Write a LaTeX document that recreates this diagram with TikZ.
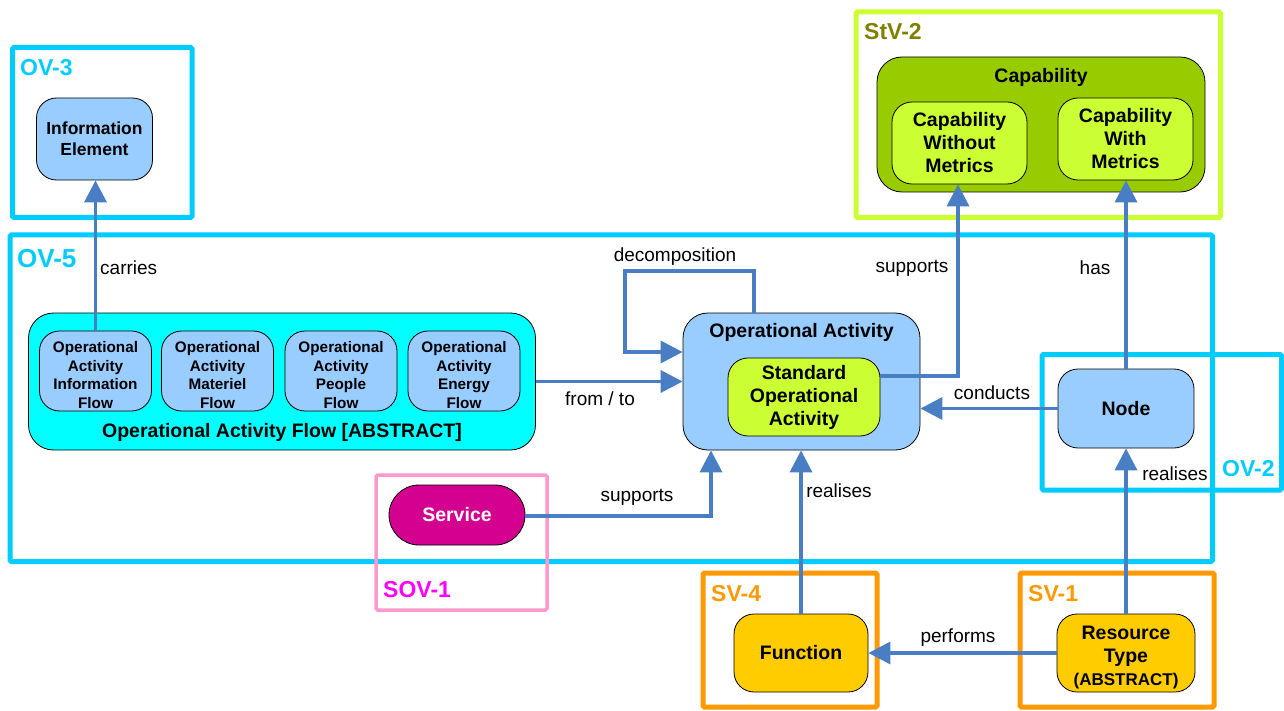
\documentclass[tikz,border=0pt]{standalone}
\usepackage{fontspec}
\setmainfont{Liberation Sans}
\usetikzlibrary{arrows.meta}
\definecolor{cyanframe}{HTML}{00CCFF}
\definecolor{limeframe}{HTML}{CCFF33}
\definecolor{olive}{HTML}{808000}
\definecolor{capgreen}{HTML}{99CC00}
\definecolor{limefill}{HTML}{CCFF33}
\definecolor{bluefill}{HTML}{99CCFF}
\definecolor{cyanfill}{HTML}{00FFFF}
\definecolor{pinkframe}{HTML}{FF99CC}
\definecolor{magentalbl}{HTML}{FF00FF}
\definecolor{servicefill}{HTML}{D4008F}
\definecolor{orangeframe}{HTML}{FF9900}
\definecolor{yellowfill}{HTML}{FFCC00}
\definecolor{arrowblue}{HTML}{4A7EC4}
\begin{document}
\begin{tikzpicture}[x=1pt,y=-1pt,
  frame/.style={line width=5pt,rounded corners=1.5pt},
  framelbl/.style={anchor=base west,inner sep=0pt,font=\fontsize{23}{26}\selectfont\bfseries},
  box/.style={draw=black,line width=0.8pt,rounded corners=20pt,align=center,inner sep=0pt,
    font=\fontsize{19.5}{23}\selectfont\bfseries},
  smallbox/.style={box,fill=bluefill,minimum width=112pt,minimum height=80pt,
    font=\fontsize{15.3}{18.5}\selectfont\bfseries},
  conn/.style={draw=arrowblue,line width=3.5pt},
  tip/.style={-{Triangle[length=22pt,width=22pt]}},
  lbl/.style={inner sep=0pt,font=\fontsize{19}{22}\selectfont},
  title/.style={inner sep=0pt,font=\fontsize{19.5}{23}\selectfont\bfseries}
]
\useasboundingbox (0,0) rectangle (1284,711);
% frames
\draw[frame,cyanframe] (12.5,47.5) rectangle (192,217.5);
\node[framelbl,text=cyanframe] (lov3) at (20,76) {OV-3};
\draw[frame,limeframe] (856,12) rectangle (1220.5,217.5);
\node[framelbl,text=olive] (lstv2) at (864,40) {StV-2};
\draw[frame,cyanframe] (10,235) rectangle (1212.5,561.5);
\node[framelbl,text=cyanframe,font=\fontsize{26}{28}\selectfont\bfseries] (lov5) at (17,267) {OV-5};
\draw[frame,cyanframe] (1042,354.5) rectangle (1281.5,490);
\node[framelbl,text=cyanframe] (lov2) at (1222,476) {OV-2};
\draw[line width=3.5pt,pinkframe,rounded corners=1.5pt] (376,475) rectangle (547,610);
\node[framelbl,text=magentalbl] (lsov1) at (383,597) {SOV-1};
\draw[frame,orangeframe] (703,573) rectangle (877,707);
\node[framelbl,text=orangeframe] (lsv4) at (711,601) {SV-4};
\draw[frame,orangeframe] (1020,573) rectangle (1214,707);
\node[framelbl,text=orangeframe] (lsv1) at (1028,601) {SV-1};
% nodes
\node[box,fill=bluefill,minimum width=116pt,minimum height=82pt,font=\fontsize{17.5}{21}\selectfont\bfseries] (ie) at (94.5,139) {Information\\Element};
\node[box,fill=capgreen,rounded corners=25pt,minimum width=328pt,minimum height=135pt] (cap) at (1041,124.5) {};
\node[title] (captitle) at (1041,77) {Capability};
\node[box,fill=limefill,minimum width=135pt,minimum height=82pt] (cwom) at (959.5,143) {Capability\\Without\\Metrics};
\node[box,fill=limefill,minimum width=135pt,minimum height=82pt] (cwm) at (1125.5,139) {Capability\\With\\Metrics};
\node[box,fill=cyanfill,rounded corners=25pt,minimum width=507pt,minimum height=137pt] (oaf) at (282,381.5) {};
\node[title] (oaftitle) at (282,432.5) {Operational Activity Flow [ABSTRACT]};
\node[smallbox] (f1) at (95.5,371) {\rule{0pt}{19pt}Operational\\Activity\\Information\\Flow};
\node[smallbox] (f2) at (217.5,371) {\rule{0pt}{19pt}Operational\\Activity\\Materiel\\Flow};
\node[smallbox] (f3) at (341,371) {\rule{0pt}{19pt}Operational\\Activity\\People\\Flow};
\node[smallbox] (f4) at (464,371) {\rule{0pt}{19pt}Operational\\Activity\\Energy\\Flow};
\node[box,fill=bluefill,rounded corners=25pt,minimum width=237pt,minimum height=137pt] (oa) at (801.5,381.5) {};
\node[title] (oatitle) at (801.5,332.5) {Operational Activity};
\node[box,fill=limefill,minimum width=152pt,minimum height=78pt] (soa) at (804,397) {Standard\\Operational\\Activity};
\node[box,fill=bluefill,minimum width=136pt,minimum height=79pt] (nd) at (1126,408.5) {Node};
\node[box,fill=servicefill,rounded corners=30pt,minimum width=136pt,minimum height=60pt,text=white] (svc) at (457,515) {Service};
\node[box,fill=yellowfill,minimum width=134pt,minimum height=78pt] (fn) at (801,653) {Function};
\node[box,fill=yellowfill,minimum width=138pt,minimum height=78pt] (rt) at (1126,653) {\rule{0pt}{23pt}Resource\\Type\\{\fontsize{17}{20}\selectfont(ABSTRACT)}};
% connectors
\draw[conn,tip] (f1.north) -- (f1.north |- ie.south);
\node[lbl,anchor=west] (lcarries) at (100,268) {carries};
\coordinate (d1) at (754,271);
\coordinate (d2) at (625,271);
\coordinate (d3) at (625,352);
\draw[conn,tip] (oa.north -| d1) -- (d1) -- (d2) -- (d3) -- (d3 -| oa.west);
\node[lbl] (ldecomp) at (675,257) {decomposition};
\draw[conn,tip] (oaf.east) -- (oaf.east -| oa.west);
\node[lbl] (lfromto) at (600,399) {from / to};
\coordinate (s1) at (958,376);
\draw[conn,tip] (soa.east |- s1) -- (s1) -- (s1 |- cwom.south);
\node[lbl] (lsupports1) at (912,268) {supports};
\draw[conn,tip] (nd.north) -- (nd.north |- cwm.south);
\node[lbl] (lhas) at (1095,268) {has};
\draw[conn,tip] (nd.west) -- (nd.west -| oa.east);
\node[lbl] (lconducts) at (992,393) {conducts};
\coordinate (s2) at (711,516);
\draw[conn,tip] (svc.east |- s2) -- (s2) -- (s2 |- oa.south);
\node[lbl] (lsupports2) at (637,497) {supports};
\draw[conn,tip] (fn.north) -- (fn.north |- oa.south);
\node[lbl] (lrealises1) at (839,491) {realises};
\draw[conn,tip] (rt.north) -- (nd.south);
\node[lbl] (lrealises2) at (1175,474) {realises};
\draw[conn,tip] (rt.west) -- (fn.east);
\node[lbl] (lperforms) at (958,638) {performs};
\end{tikzpicture}
\end{document}
